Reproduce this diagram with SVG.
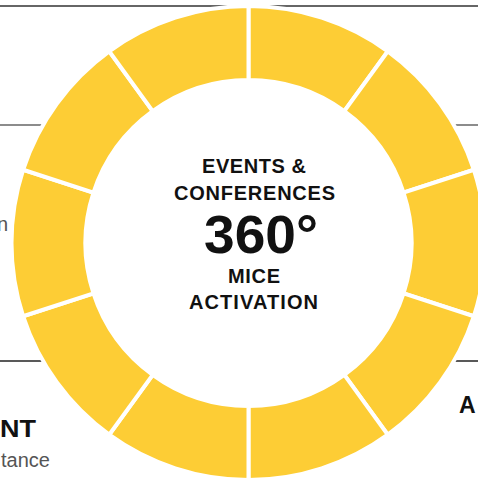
<svg xmlns="http://www.w3.org/2000/svg" width="478" height="479" viewBox="0 0 478 479">
  <style>
    .rule { stroke-width: 1.3; fill: none; }
    .seg { fill: #FDCD35; stroke: #FFFFFF; stroke-width: 4; stroke-linejoin: miter; }
    .hub { font-family: "Liberation Sans", Arial, sans-serif; font-weight: 700; fill: #111111; }
    .side { font-family: "Liberation Sans", Arial, sans-serif; font-size: 20px; fill: #555555; }
    .head { font-family: "Liberation Sans", Arial, sans-serif; font-weight: 700; font-size: 23px; fill: #111111; }
  </style>
  <rect width="478" height="479" fill="#FFFFFF"/>

  <!-- horizontal divider rules running behind the ring -->
  <g id="connectors">
    <line class="rule" x1="0" y1="6" x2="478" y2="6" stroke="#333333"/>
    <line class="rule" x1="0" y1="125" x2="478" y2="125" stroke="#666666"/>
    <line class="rule" x1="0" y1="361" x2="478" y2="361" stroke="#222222"/>
  </g>

  <!-- inner white disc hides the rules in the middle -->
  <circle cx="248.5" cy="243" r="165" fill="#FFFFFF"/>

  <!-- ten ring segments, 36 degrees each -->
  <g id="seg-1"><path class="seg" d="M248.5 6 A237 237 0 0 1 387.81 51.27 L344.31 111.13 A163 163 0 0 0 248.5 80 Z"/></g>
  <g id="seg-2"><path class="seg" d="M387.81 51.27 A237 237 0 0 1 473.91 169.77 L403.53 192.63 A163 163 0 0 0 344.31 111.13 Z"/></g>
  <g id="seg-3"><path class="seg" d="M473.91 169.77 A237 237 0 0 1 473.91 316.23 L403.53 293.37 A163 163 0 0 0 403.53 192.63 Z"/></g>
  <g id="seg-4"><path class="seg" d="M473.91 316.23 A237 237 0 0 1 387.81 434.73 L344.31 374.87 A163 163 0 0 0 403.53 293.37 Z"/></g>
  <g id="seg-5"><path class="seg" d="M387.81 434.73 A237 237 0 0 1 248.5 480 L248.5 406 A163 163 0 0 0 344.31 374.87 Z"/></g>
  <g id="seg-6"><path class="seg" d="M248.5 480 A237 237 0 0 1 109.19 434.73 L152.69 374.87 A163 163 0 0 0 248.5 406 Z"/></g>
  <g id="seg-7"><path class="seg" d="M109.19 434.73 A237 237 0 0 1 23.09 316.23 L93.47 293.37 A163 163 0 0 0 152.69 374.87 Z"/></g>
  <g id="seg-8"><path class="seg" d="M23.09 316.23 A237 237 0 0 1 23.09 169.77 L93.47 192.63 A163 163 0 0 0 93.47 293.37 Z"/></g>
  <g id="seg-9"><path class="seg" d="M23.09 169.77 A237 237 0 0 1 109.19 51.27 L152.69 111.13 A163 163 0 0 0 93.47 192.63 Z"/></g>
  <g id="seg-10"><path class="seg" d="M109.19 51.27 A237 237 0 0 1 248.5 6 L248.5 80 A163 163 0 0 0 152.69 111.13 Z"/></g>

  <!-- centre title -->
  <g id="hub">
    <text class="hub" x="254" y="173" font-size="20" text-anchor="middle" textLength="104" lengthAdjust="spacing">EVENTS &amp;</text>
    <text class="hub" x="254.5" y="200" font-size="20" text-anchor="middle" textLength="161" lengthAdjust="spacing">CONFERENCES</text>
    <text class="hub" x="204" y="253" font-size="53" textLength="114" lengthAdjust="spacingAndGlyphs">360°</text>
    <text class="hub" x="254" y="283" font-size="20" text-anchor="middle" textLength="52" lengthAdjust="spacing">MICE</text>
    <text class="hub" x="253.5" y="309" font-size="20" text-anchor="middle" textLength="129" lengthAdjust="spacing">ACTIVATION</text>
  </g>

  <!-- side captions, cut at the edges -->
  <g id="caption-left-top"><text class="side" x="8" y="231" text-anchor="end">n</text></g>
  <g id="caption-left-bottom">
    <text class="head" x="0" y="437" textLength="36" lengthAdjust="spacingAndGlyphs">NT</text>
    <text class="side" x="50" y="467" text-anchor="end">tance</text>
  </g>
  <g id="caption-right"><text class="head" x="459" y="413">A</text></g>
</svg>
